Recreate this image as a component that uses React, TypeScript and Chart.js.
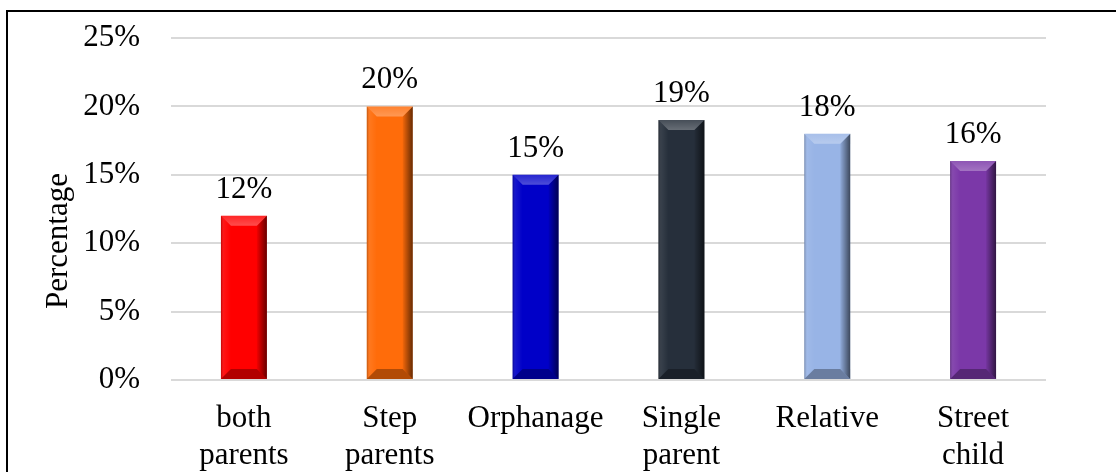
import React, { useEffect, useRef } from "react";
import { Chart, registerables } from "chart.js";

Chart.register(...registerables);

const categories: string[][] = [
  ["both", "parents"],
  ["Step", "parents"],
  ["Orphanage"],
  ["Single", "parent"],
  ["Relative"],
  ["Street", "child"],
];
const values: number[] = [12, 20, 15, 19, 18, 16];
const barColors: string[] = ["#FF0000", "#FF6C0A", "#0000C8", "#262F3B", "#98B4E6", "#7B38A8"];
const yTicksMax = 25;
const yTickStep = 5;
const yTitle = "Percentage";

const FONT = "'Liberation Serif', 'Times New Roman', serif";
const FS = 31;

const bevelPlugin = {
  id: "bevel",
  afterDatasetsDraw(chart: any) {
    const ctx = chart.ctx;
    const meta = chart.getDatasetMeta(0);
    meta.data.forEach((bar: any) => {
      const { x, y, base, width } = bar.getProps(["x", "y", "base", "width"], true);
      const l = x - width / 2;
      const r = x + width / 2;
      const t = y;
      const b = base;
      const bv = 10;
      ctx.save();
      let g = ctx.createLinearGradient(r - bv, 0, r, 0);
      g.addColorStop(0, "rgba(0,0,0,0.05)");
      g.addColorStop(1, "rgba(0,0,0,0.6)");
      ctx.fillStyle = g;
      ctx.beginPath();
      ctx.moveTo(r - bv, t + bv);
      ctx.lineTo(r, t);
      ctx.lineTo(r, b);
      ctx.lineTo(r - bv, b - bv);
      ctx.closePath();
      ctx.fill();
      g = ctx.createLinearGradient(l, 0, l + bv, 0);
      g.addColorStop(0, "rgba(0,0,0,0.25)");
      g.addColorStop(0.3, "rgba(255,255,255,0.08)");
      g.addColorStop(1, "rgba(255,255,255,0)");
      ctx.fillStyle = g;
      ctx.beginPath();
      ctx.moveTo(l, t);
      ctx.lineTo(l + bv, t + bv);
      ctx.lineTo(l + bv, b - bv);
      ctx.lineTo(l, b);
      ctx.closePath();
      ctx.fill();
      g = ctx.createLinearGradient(0, t, 0, t + bv);
      g.addColorStop(0, "rgba(255,255,255,0.15)");
      g.addColorStop(1, "rgba(255,255,255,0.3)");
      ctx.fillStyle = g;
      ctx.beginPath();
      ctx.moveTo(l, t);
      ctx.lineTo(r, t);
      ctx.lineTo(r - bv, t + bv);
      ctx.lineTo(l + bv, t + bv);
      ctx.closePath();
      ctx.fill();
      ctx.fillStyle = "rgba(0,0,0,0.3)";
      ctx.beginPath();
      ctx.moveTo(l, b);
      ctx.lineTo(r, b);
      ctx.lineTo(r - bv, b - bv);
      ctx.lineTo(l + bv, b - bv);
      ctx.closePath();
      ctx.fill();
      ctx.restore();
    });
  },
};

const labelPlugin = {
  id: "valueLabels",
  afterDatasetsDraw(chart: any) {
    const ctx = chart.ctx;
    const meta = chart.getDatasetMeta(0);
    ctx.save();
    ctx.font = `${FS}px ${FONT}`;
    ctx.fillStyle = "#000";
    ctx.textAlign = "center";
    ctx.textBaseline = "alphabetic";
    meta.data.forEach((bar: any, i: number) => {
      ctx.fillText(`${values[i]}%`, bar.x, bar.y - 18);
    });
    ctx.restore();
  },
};

const yTitlePlugin = {
  id: "yTitle",
  afterDraw(chart: any) {
    const ctx = chart.ctx;
    const area = chart.chartArea;
    ctx.save();
    ctx.font = `${FS}px ${FONT}`;
    ctx.fillStyle = "#000";
    ctx.textAlign = "center";
    ctx.textBaseline = "middle";
    ctx.translate(59, (area.top + area.bottom) / 2 + 32);
    ctx.rotate(-Math.PI / 2);
    ctx.fillText(yTitle, 0, 0);
    ctx.restore();
  },
};

export default function App() {
  const ref = useRef<HTMLCanvasElement>(null);
  useEffect(() => {
    if (!ref.current) return;
    const chart = new Chart(ref.current, {
      type: "bar",
      data: {
        labels: categories,
        datasets: [
          {
            data: values,
            backgroundColor: barColors,
            borderWidth: 0,
            categoryPercentage: 1,
            barPercentage: 0.315,
          },
        ],
      },
      options: {
        animation: false,
        responsive: false,
        events: [],
        layout: { padding: { left: 0, right: 70, top: 38, bottom: 0 } },
        plugins: { legend: { display: false }, tooltip: { enabled: false } },
        scales: {
          x: {
            grid: { display: false },
            border: { display: false },
            ticks: {
              color: "#000",
              font: { family: FONT, size: FS, lineHeight: 1.2 },
              padding: 12,
              maxRotation: 0,
              autoSkip: false,
            },
            afterFit: (s: any) => {
              s.height = 92;
              s.paddingLeft = 0;
              s.paddingRight = 0;
            },
          },
          y: {
            min: 0,
            max: yTicksMax,
            border: { display: false },
            grid: { color: "#D9D9D9", lineWidth: 2, drawTicks: false },
            ticks: {
              stepSize: yTickStep,
              color: "#000",
              font: { family: FONT, size: FS },
              padding: 31,
              callback: (v: any) => `${v}%`,
            },
            afterFit: (s: any) => {
              s.width = 171;
              s.paddingTop = 0;
              s.paddingBottom = 0;
            },
          },
        },
      },
      plugins: [bevelPlugin, labelPlugin, yTitlePlugin],
    });
    return () => chart.destroy();
  }, []);
  return (
    <div style={{ position: "fixed", left: 0, top: 0, width: 1116, height: 472, background: "#fff", overflow: "hidden" }}>
      <canvas ref={ref} width={1116} height={472} style={{ position: "absolute", left: 0, top: 0 }} />
      <div
        style={{
          position: "absolute",
          left: 6,
          top: 10,
          width: 1140,
          height: 500,
          border: "2px solid #000",
          pointerEvents: "none",
        }}
      />
    </div>
  );
}
